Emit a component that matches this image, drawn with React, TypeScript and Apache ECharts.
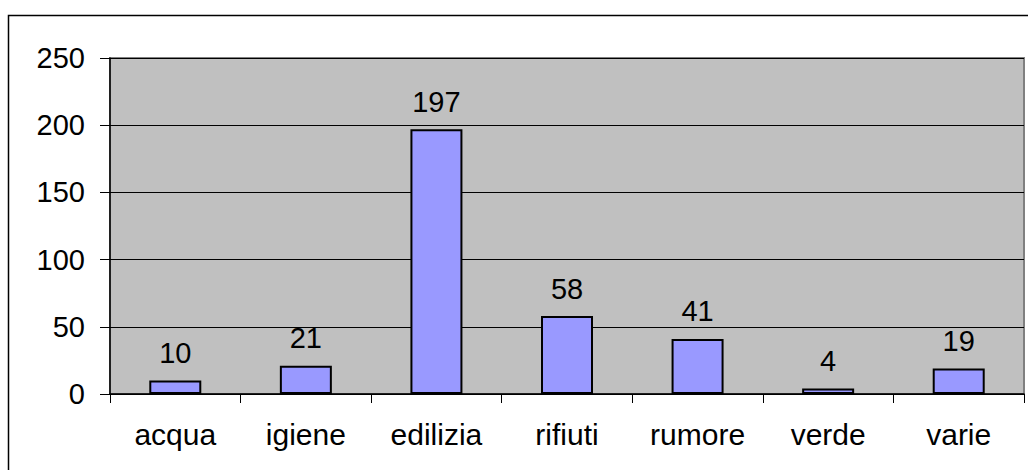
import React, { useEffect, useRef } from "react";
import * as echarts from "echarts";

const categories = ["acqua", "igiene", "edilizia", "rifiuti", "rumore", "verde", "varie"];
const values = [10, 21, 197, 58, 41, 4, 19];
const yTicks = { min: 0, max: 250, interval: 50 };

export default function App() {
  const ref = useRef<HTMLDivElement>(null);
  useEffect(() => {
    document.body.style.margin = "0";
    const chart = echarts.init(ref.current!, undefined, { renderer: "svg" });
    const font = "'Liberation Sans', Arial, sans-serif";
    chart.setOption({
      animation: false,
      backgroundColor: "#ffffff",
      graphic: [
        {
          type: "rect",
          shape: { x: 8.5, y: 15.5, width: 1100, height: 600 },
          style: { fill: "none", stroke: "#000", lineWidth: 1.5 },
          silent: true,
          z: 100,
        },
      ],
      grid: {
        left: 110,
        top: 58,
        right: 4,
        bottom: 76,
        show: true,
        backgroundColor: "#C0C0C0",
        borderColor: "#808080",
        borderWidth: 2,
      },
      xAxis: {
        type: "category",
        data: categories,
        boundaryGap: true,
        axisLine: { lineStyle: { color: "#000", width: 1.5 } },
        axisTick: { show: true, length: 9, lineStyle: { color: "#000", width: 1 } },
        axisLabel: { color: "#000", fontSize: 30, fontFamily: font, margin: 25 },
        splitLine: { show: false },
      },
      yAxis: {
        type: "value",
        min: yTicks.min,
        max: yTicks.max,
        interval: yTicks.interval,
        axisLine: { show: true, lineStyle: { color: "#000", width: 1.5 } },
        axisTick: { show: true, length: 10, lineStyle: { color: "#000", width: 1 } },
        axisLabel: { color: "#000", fontSize: 29, fontFamily: font, margin: 25 },
        splitLine: { show: true, lineStyle: { color: "#000", width: 1 } },
      },
      series: [
        {
          type: "bar",
          data: values,
          barWidth: 52,
          itemStyle: { color: "#9999FF", borderColor: "#000", borderWidth: 2 },
          label: {
            show: true,
            position: "top",
            distance: 13,
            color: "#000",
            fontSize: 29,
            fontFamily: font,
          },
        },
      ],
    });
    return () => chart.dispose();
  }, []);
  return <div ref={ref} style={{ width: 1028, height: 470 }} />;
}
